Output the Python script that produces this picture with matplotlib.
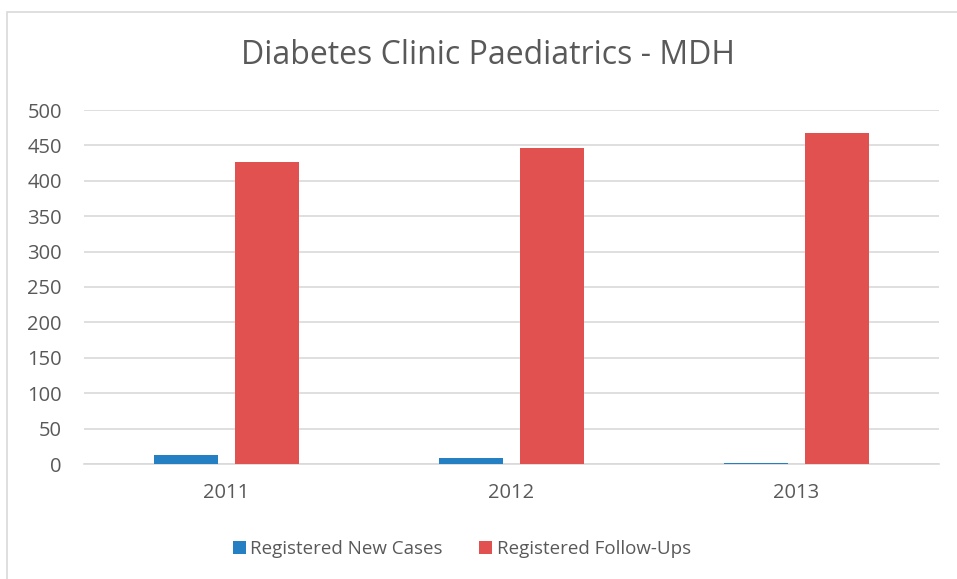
import matplotlib.pyplot as plt
from matplotlib.patches import Rectangle
import numpy as np

plt.rcParams['font.family'] = ['Open Sans', 'DejaVu Sans']

years = ['2011', '2012', '2013']
new_cases = [13, 9, 2]
follow_ups = [427, 447, 468]

blue = '#2580C3'
red = '#E05150'
grey_text = '#595959'

W, H = 957, 579
fig = plt.figure(figsize=(W / 100, H / 100), dpi=100)

# chart border (cut off at right and bottom like the screenshot)
fig.patches.append(Rectangle((7 / W, -0.1), 1.2, 1 - 12 / H + 0.1,
                             transform=fig.transFigure, fill=False,
                             edgecolor='#D9D9D9', linewidth=1.2))

ax = fig.add_axes([84 / W, 1 - 464 / H, (939 - 84) / W, (464 - 110) / H])

x = np.arange(len(years))
bw = 0.225
off = 0.1425
ax.bar(x - off, new_cases, bw, color=blue, label='Registered New Cases', zorder=3)
ax.bar(x + off, follow_ups, bw, color=red, label='Registered Follow-Ups', zorder=3)

ax.set_xlim(-0.5, 2.5)
ax.set_ylim(0, 500)
ax.set_yticks(range(0, 501, 50))
ax.set_xticks(x)
ax.set_xticklabels(years)
ax.yaxis.grid(True, color='#D9D9D9', linewidth=1.2, zorder=0)
for s in ['top', 'right', 'left']:
    ax.spines[s].set_visible(False)
ax.spines['bottom'].set_color('#D9D9D9')
ax.spines['bottom'].set_linewidth(1.2)
ax.tick_params(axis='both', length=0, labelsize=14.5, labelcolor=grey_text)
ax.tick_params(axis='y', pad=16)
ax.tick_params(axis='x', pad=14)

fig.text(487.5 / W, 1 - 55 / H, 'Diabetes Clinic Paediatrics - MDH',
         ha='center', va='center', fontsize=23, color=grey_text)

fig.legend(loc='center', bbox_to_anchor=(462 / W, 1 - 549 / H), ncol=2,
           frameon=False, fontsize=13.5, labelcolor=grey_text,
           handlelength=0.68, handleheight=0.68, handletextpad=0.26,
           columnspacing=1.95)

fig.savefig('out.png', dpi=100)
